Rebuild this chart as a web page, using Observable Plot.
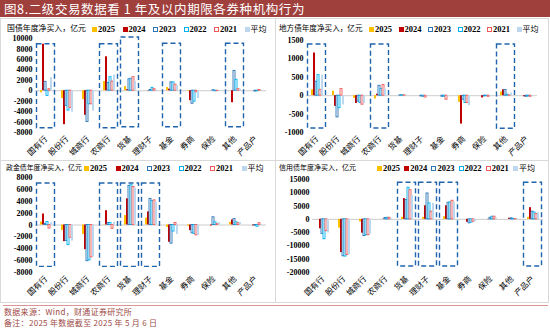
<!DOCTYPE html>
<html><head><meta charset="utf-8">
<script src="https://cdn.jsdelivr.net/npm/d3@7"></script>
<script src="https://cdn.jsdelivr.net/npm/@observablehq/plot@0.6"></script>
<style>
html,body{margin:0;padding:0;background:#fff;}
#root{position:relative;width:550px;height:329px;overflow:hidden;font-family:"Noto Sans CJK SC",sans-serif;}
.titlebar{position:absolute;left:0;top:0;width:550px;height:17px;background:#A0403D;color:#fff;font-size:12.5px;letter-spacing:0.6px;line-height:17px;padding-left:4px;box-sizing:border-box;white-space:nowrap;}
.panel{position:absolute;border:1px solid #D9D9D9;box-sizing:border-box;}
.leg{position:absolute;line-height:10px;height:10px;white-space:nowrap;color:#000;}
.item{position:absolute;white-space:nowrap;font-size:8.5px;line-height:10px;height:10px;}
.sw{display:inline-block;width:5px;height:5px;margin-right:1px;vertical-align:0px;box-sizing:border-box;}
.num{font-family:"Liberation Serif",serif;font-weight:bold;}
.cjk{font-family:"Noto Sans CJK SC",sans-serif;font-size:8px;}
.chart{position:absolute;}
.fline{position:absolute;left:3px;top:305px;width:545px;height:1px;background:#D99694;}
.ftext{position:absolute;left:4px;font-size:8px;line-height:10px;height:10px;color:#9E4A47;white-space:nowrap;letter-spacing:0.3px;}
</style>
</head><body><div id="root"></div>
<script>
const categories = ["国有行","股份行","城商行","农商行","货基","理财子","基金","券商","保险","其他","产品户"];
const seriesNames = ["2025","2024","2023","2022","2021","平均"];
const panelTitles = ["国债年度净买入，亿元","地方债年度净买入，亿元","政金债年度净买入，亿元","信用债年度净买入，亿元"];

// 国债
const gz2025 = [-400,-1500,-1700,1750,800,0,600,-100,0,0,0];
const gz2024 = [8900,-6500,-4700,6500,200,-50,300,-1900,0,-2300,0];
const gz2023 = [1700,-2900,-6000,1500,2200,150,1600,-2500,100,3800,-150];
const gz2022 = [-1000,-3800,-2600,2600,2300,550,1600,-2100,-100,2100,-100];
const gz2021 = [300,-3300,-2600,1750,2600,300,1150,-300,-50,300,150];
const gzAvg  = [2500,-4100,-3900,3000,1800,200,1000,-1500,-100,300,100];
// 地方债
const df2025 = [160,120,-70,-90,0,0,0,-180,0,100,0];
const df2024 = [1160,-290,-210,40,0,0,0,-770,-60,160,-30];
const df2023 = [380,-590,-160,270,10,-20,-30,-110,-20,155,-30];
const df2022 = [560,-340,-200,180,15,-30,-30,-200,-10,30,-20];
const df2021 = [160,180,-245,290,10,-50,-110,-200,-30,10,-30];
const dfAvg  = [560,-250,-200,180,10,-20,-30,-270,-20,70,-20];
// 政金债
const zj2025 = [500,-950,-1600,-50,1600,1150,-400,-200,0,450,0];
const zj2024 = [1850,-2800,-4150,2400,4400,2200,-2900,-950,-150,850,-150];
const zj2023 = [200,-2700,-6100,350,6600,4400,-3150,-1400,1300,1000,-100];
const zj2022 = [500,-3400,-5950,350,6700,4050,-1100,-1500,450,450,-300];
const zj2021 = [-600,-2150,-5450,-650,6400,4150,350,-1750,150,300,300];
const zjAvg  = [400,-2700,-5350,450,6200,3800,-1600,-1750,400,450,-100];
// 信用债
const xy2025 = [0,-3300,-1000,0,800,750,1000,0,0,0,750];
const xy2024 = [-3550,-12500,-5200,100,7800,5100,5100,-1100,-100,400,4400];
const xy2023 = [-5500,-13900,-6300,500,7300,9750,6250,-1500,600,400,2900];
const xy2022 = [-7500,-14000,-6000,600,11900,6000,6400,-1250,1000,200,2600];
const xy2021 = [-4450,-13400,-5950,600,11000,2900,7000,-900,1000,100,2000];
const xyAvg  = [-5100,-13300,-5600,400,9000,6000,6250,-900,500,200,2500];

// highlighted categories (dashed boxes), extents in data units
const gzBoxCats = ["国有行","农商行","货基","基金","其他"];
const gzBoxTop = [8900,8900,10200,9000,9000];
const gzBoxBottom = [-7200,-7200,-7000,-7000,-7000];
const dfBoxCats = ["国有行","农商行","其他"];
const dfBoxTop = [1390,1390,1390];
const dfBoxBottom = [-890,-890,-900];
const zjBoxCats = ["国有行","农商行","货基","理财子"];
const zjBoxTop = [7000,7000,7000,7000];
const zjBoxBottom = [-7050,-7050,-7050,-7050];
const xyBoxCats = ["货基","理财子","基金","产品户"];
const xyBoxTop = [13750,13750,13750,13750];
const xyBoxBottom = [-17750,-17750,-17750,-17750];

// y-axis tick labels
const gzTicks = [10000,8000,6000,4000,2000,0,-2000,-4000,-6000,-8000];
const dfTicks = [1500,1000,500,0,-500,-1000];
const zjTicks = [8000,6000,4000,2000,0,-2000,-4000,-6000,-8000];
const xyTicks = [15000,10000,5000,0,-5000,-10000,-15000,-20000];

const styles = [
  {fill:"#FFC000", stroke:"none"},
  {fill:"#C00000", stroke:"none"},
  {fill:"#FFFFFF", stroke:"#2E75B6"},
  {fill:"#FFFFFF", stroke:"#00B0F0"},
  {fill:"#FFFFFF", stroke:"#F05A5A"},
  {fill:"#BDD7EE", stroke:"none"}
];

const panels = [
  {title:panelTitles[0], values:[gz2025,gz2024,gz2023,gz2022,gz2021,gzAvg], ticks:gzTicks, boxCats:gzBoxCats, boxTop:gzBoxTop, boxBottom:gzBoxBottom,
   left:0, top:18, w:276, h:143, svgTop:30, width:275, height:130, mL:31, mR:5, mT:8, mB:28, legTop:23, legLeft:7, titleSize:7.9, itemStart:92, itemStep:30.5},
  {title:panelTitles[1], values:[df2025,df2024,df2023,df2022,df2021,dfAvg], ticks:dfTicks, boxCats:dfBoxCats, boxTop:dfBoxTop, boxBottom:dfBoxBottom,
   left:275, top:18, w:274, h:143, svgTop:30, width:273, height:130, mL:27, mR:7, mT:10, mB:28, legTop:23, legLeft:279, titleSize:7.6, itemStart:369, itemStep:29.5},
  {title:panelTitles[2], values:[zj2025,zj2024,zj2023,zj2022,zj2021,zjAvg], ticks:zjTicks, boxCats:zjBoxCats, boxTop:zjBoxTop, boxBottom:zjBoxBottom,
   left:0, top:160, w:276, h:143, svgTop:170, width:275, height:132, mL:31, mR:5, mT:7, mB:30, legTop:162, legLeft:6, titleSize:6.9, itemStart:84, itemStep:31.5},
  {title:panelTitles[3], values:[xy2025,xy2024,xy2023,xy2022,xy2021,xyAvg], ticks:xyTicks, boxCats:xyBoxCats, boxTop:xyBoxTop, boxBottom:xyBoxBottom,
   left:275, top:160, w:274, h:143, svgTop:170, width:273, height:132, mL:32, mR:1, mT:9, mB:30, legTop:162, legLeft:279, titleSize:7.0, itemStart:377, itemStep:27.2}
];

const root = document.getElementById("root");
const tb = document.createElement("div");
tb.className = "titlebar";
tb.textContent = "图8.二级交易数据看 1 年及以内期限各券种机构行为";
root.appendChild(tb);

panels.forEach(p => {
  const box = document.createElement("div");
  box.className = "panel";
  Object.assign(box.style, {left:p.left+"px", top:p.top+"px", width:p.w+"px", height:p.h+"px"});
  root.appendChild(box);

  const long = [];
  seriesNames.forEach((s,i) => p.values[i].forEach((v,j) => long.push({cat:categories[j], series:s, value:v})));
  const boxes = p.boxCats.map((c,i) => ({cat:c, top:p.boxTop[i], bottom:p.boxBottom[i]}));
  const dom = [Math.min(...p.ticks), Math.max(...p.ticks)];

  const chart = Plot.plot({
    width: p.width, height: p.height,
    marginLeft: p.mL, marginRight: p.mR, marginTop: p.mT, marginBottom: p.mB,
    style: {background:"transparent", overflow:"visible"},
    fx: {domain: categories, padding: 0},
    x: {domain: seriesNames, paddingInner: 0.08, paddingOuter: 1.2, axis: null},
    y: {domain: dom},
    marks: [
      Plot.ruleY([0], {stroke:"#BFBFBF", strokeWidth:0.8}),
      ...seriesNames.map((s,i) => Plot.barY(long.filter(d => d.series === s), {
        fx:"cat", x:"series", y:"value", fill: styles[i].fill, stroke: styles[i].stroke, strokeWidth: 0.9
      })),
      Plot.barY(boxes, {fx:"cat", y1:"bottom", y2:"top", fill:"none", stroke:"#1F64AD", strokeWidth:1.4, strokeDasharray:"5,3", insetLeft:1.5, insetRight:1.5}),
      Plot.axisY({ticks: p.ticks, tickFormat: d => String(d), tickSize:0, tickPadding:3, fontSize:8, fontWeight:"bold", fontFamily:"Liberation Serif", label:null}),
      Plot.axisFx({anchor:"bottom", tickRotate:-45, tickSize:0, tickPadding:5, label:null, fontSize:8, fontFamily:"Noto Sans CJK SC"})
    ]
  });
  const wrap = document.createElement("div");
  wrap.className = "chart";
  Object.assign(wrap.style, {left:p.left+"px", top:p.svgTop+"px"});
  wrap.appendChild(chart);
  root.appendChild(wrap);

  const lt = document.createElement("div");
  lt.className = "leg";
  Object.assign(lt.style, {left:p.legLeft+"px", top:p.legTop+"px", fontSize:p.titleSize+"px"});
  lt.textContent = p.title;
  root.appendChild(lt);

  seriesNames.forEach((s,i) => {
    const it = document.createElement("div");
    it.className = "item";
    Object.assign(it.style, {left:(p.itemStart + i*p.itemStep) + "px", top:p.legTop+"px"});
    const sw = document.createElement("span");
    sw.className = "sw";
    if (styles[i].stroke !== "none") { sw.style.border = "1px solid " + styles[i].stroke; sw.style.background = "#fff"; }
    else sw.style.background = styles[i].fill;
    const tx = document.createElement("span");
    tx.className = /^\d+$/.test(s) ? "num" : "cjk";
    tx.textContent = s;
    it.appendChild(sw); it.appendChild(tx);
    root.appendChild(it);
  });
});

const fl = document.createElement("div"); fl.className = "fline"; root.appendChild(fl);
const f1 = document.createElement("div"); f1.className = "ftext"; f1.style.top = "307px"; f1.textContent = "数据来源：Wind，财通证券研究所"; root.appendChild(f1);
const f2 = document.createElement("div"); f2.className = "ftext"; f2.style.top = "318px"; f2.textContent = "备注：2025 年数据截至 2025 年 5 月 6 日"; root.appendChild(f2);
</script>
</body></html>
